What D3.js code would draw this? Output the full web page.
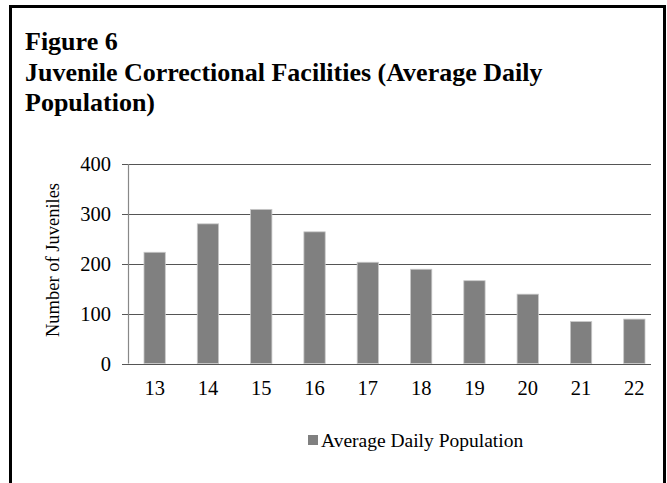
<!DOCTYPE html>
<html>
<head>
    <meta charset="UTF-8">
    <script src="https://cdn.jsdelivr.net/npm/d3@7"></script>
    <style>
        body { margin: 0; background: #fff; }
        text { font-family: "Liberation Serif", "Times New Roman", serif; }
    </style>
</head>
<body>
<div id="chart"></div>
<script>
    // chart data
    var ages = ["13", "14", "15", "16", "17", "18", "19", "20", "21", "22"];
    var population = [223, 280, 309, 264, 203, 189, 166, 139, 84, 89];
    var yTicks = [0, 100, 200, 300, 400];
    var titleLines = ["Figure 6", "Juvenile Correctional Facilities (Average Daily", "Population)"];
    var seriesName = "Average Daily Population";

    var W = 667, H = 483;

    var svg = d3.select("#chart").append("svg")
        .attr("width", W)
        .attr("height", H);

    // outer frame (bottom edge runs off the page)
    svg.append("rect")
        .attr("x", 10.5).attr("y", 6.5)
        .attr("width", 654).attr("height", 500)
        .attr("fill", "none")
        .attr("stroke", "#000")
        .attr("stroke-width", 3);

    // title
    svg.selectAll(".title")
        .data(titleLines)
        .enter().append("text")
        .attr("class", "title")
        .attr("x", 25)
        .attr("y", function (d, i) { return 50 + i * 30.5; })
        .style("font-size", "26px")
        .style("font-weight", "bold")
        .text(function (d) { return d; });

    // scales
    var x = d3.scaleBand()
        .domain(ages)
        .range([128, 661])
        .paddingInner(0.6)
        .paddingOuter(0.3);

    var y = d3.scaleLinear()
        .domain([0, 400])
        .range([363.5, 164]);

    // gridlines + y tick marks
    svg.selectAll(".grid")
        .data(yTicks)
        .enter().append("line")
        .attr("x1", 122).attr("x2", 651)
        .attr("y1", function (d) { return Math.round(y(d)) + 0.5; })
        .attr("y2", function (d) { return Math.round(y(d)) + 0.5; })
        .attr("stroke", "#555")
        .attr("stroke-width", 1.2);

    // y axis line
    svg.append("line")
        .attr("x1", 128.5).attr("x2", 128.5)
        .attr("y1", y(400)).attr("y2", y(0))
        .attr("stroke", "#888")
        .attr("stroke-width", 1.2);

    // bars
    svg.selectAll(".bar")
        .data(population)
        .enter().append("rect")
        .attr("class", "bar")
        .attr("x", function (d, i) { return x(ages[i]); })
        .attr("width", x.bandwidth())
        .attr("y", function (d) { return y(d); })
        .attr("height", function (d) { return y(0) - y(d); })
        .attr("fill", "#808080")
        .attr("stroke", "#c8c8c8")
        .attr("stroke-width", 0.8);

    // x axis line drawn over bars
    svg.append("line")
        .attr("x1", 122).attr("x2", 651)
        .attr("y1", Math.round(y(0)) + 0.5).attr("y2", Math.round(y(0)) + 0.5)
        .attr("stroke", "#555")
        .attr("stroke-width", 1.2);

    // y tick labels
    svg.selectAll(".ylab")
        .data(yTicks)
        .enter().append("text")
        .attr("x", 111)
        .attr("y", function (d) { return y(d); })
        .attr("dy", "0.35em")
        .attr("text-anchor", "end")
        .style("font-size", "20.5px")
        .text(function (d) { return d; });

    // x tick labels
    svg.selectAll(".xlab")
        .data(ages)
        .enter().append("text")
        .attr("x", function (d) { return x(d) + x.bandwidth() / 2; })
        .attr("y", 395)
        .attr("text-anchor", "middle")
        .style("font-size", "20.5px")
        .text(function (d) { return d; });

    // y axis title
    svg.append("text")
        .attr("transform", "translate(59,260) rotate(-90)")
        .attr("text-anchor", "middle")
        .style("font-size", "18.5px")
        .text("Number of Juveniles");

    // legend
    svg.append("rect")
        .attr("x", 308).attr("y", 435)
        .attr("width", 10).attr("height", 10)
        .attr("fill", "#808080");

    svg.append("text")
        .attr("x", 321)
        .attr("y", 447)
        .style("font-size", "19.5px")
        .text(seriesName);
</script>
</body>
</html>
